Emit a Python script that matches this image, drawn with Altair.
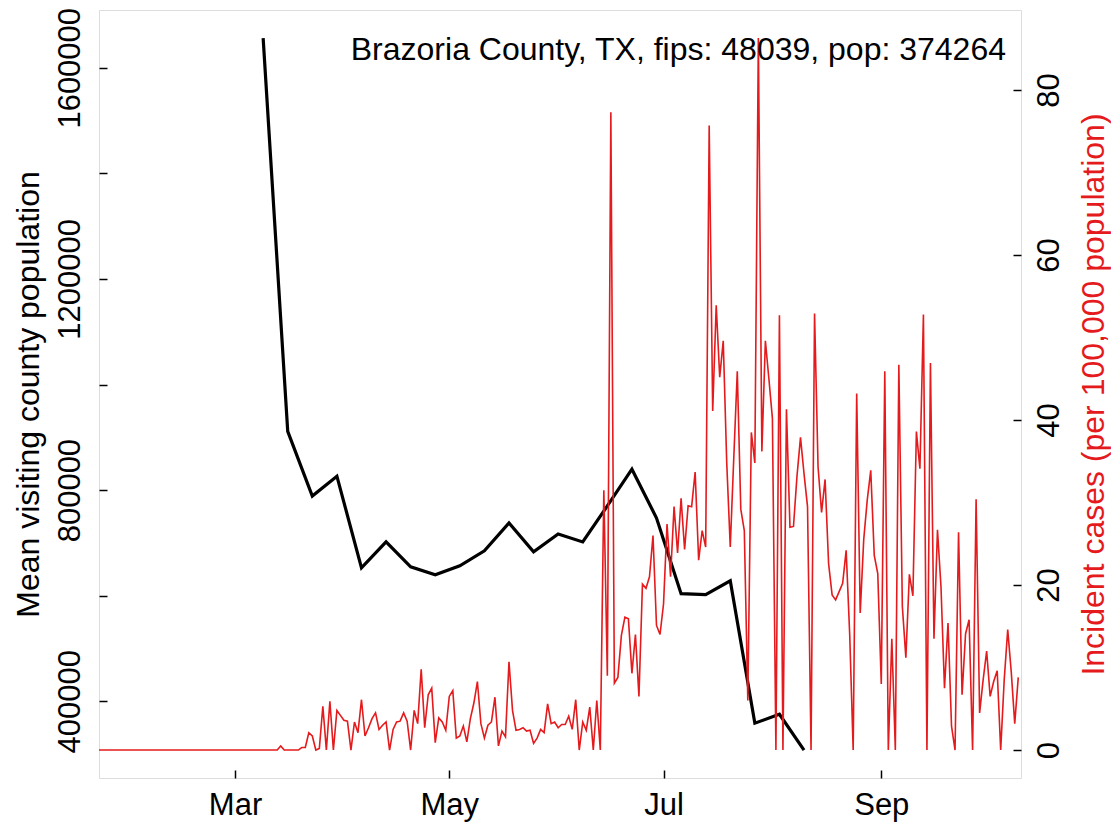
import altair as alt
import pandas as pd

# ---------------- data ----------------
red_start = "2020-01-22"
incident = (
    [0.0] * 52 + [0.5] + [0.0] * 5 +
    [0.3, 0.3, 2.1, 1.7, 0.0, 0.2, 5.3, 0.0, 5.9, 0.0,
     4.8, 4.2, 3.6, 3.5, 0.0, 3.4, 2.1, 6.1, 1.7, 2.7,
     3.8, 4.5, 2.5, 3.0, 3.4, 0.0, 2.5, 3.4, 3.5, 4.5,
     3.5, 0.0, 4.8, 3.2, 9.8, 2.7, 6.7, 7.5, 0.9, 3.9,
     3.4, 2.4,
     6.5, 7.2, 1.45, 1.7, 2.9, 1.0, 3.8, 5.7, 8.3, 3.2,
     1.45, 3.0, 3.4, 6.4, 0.5, 2.3, 1.6, 10.7, 4.8, 2.4,
     2.5, 2.7, 2.3, 2.4, 0.8, 1.45, 2.5, 2.1, 5.6, 3.2,
     3.4, 2.7, 3.1, 3.1, 4.1, 2.5, 6.1, 0.0, 3.4, 2.4,
     5.2, 0.0, 6.0, 0.0, 31.5, 9.0, 77.3, 8.1, 8.8, 13.9,
     16.1, 15.9, 9.3, 14.0, 6.5, 20.1, 19.6, 21.0, 26.0, 15.1,
     14.0, 17.7, 27.4, 21.0, 29.5, 23.9, 30.5, 24.3, 29.6, 29.5,
     33.7, 23.0, 26.6, 24.6, 75.7, 41.1, 53.9, 45.2, 49.6, 34.8,
     24.6, 35.4, 45.9, 29.2, 26.6, 6.0, 38.5, 34.8, 86.3, 36.2,
     49.6, 45.0, 40.2, 0.0, 52.7, 0.0, 41.3, 27.0, 27.1, 33.2,
     37.9, 33.5, 29.5, 0.0, 52.9, 34.3, 28.8, 32.8, 22.6, 18.8,
     18.2, 19.2, 20.2, 24.2, 14.1, 0.0, 43.2, 16.6, 25.5, 30.3,
     33.9, 23.6, 21.4, 8.0, 45.9, 0.0, 13.5, 0.0, 46.7, 17.4,
     11.2, 21.3, 18.7, 38.6, 34.1, 52.8, 0.0, 46.9, 13.5, 26.7,
     19.8, 7.5, 15.4, 2.9, 0.0, 26.4, 6.7, 14.1, 15.8, 0.0,
     30.4, 4.5, 8.5, 12.0, 6.5, 8.3, 9.6, 0.0, 8.5, 14.6,
     9.5, 3.2, 8.8]
)

black_start = "2020-03-09"
visitors = [1656000, 911300, 788700, 826400, 652800, 701900, 654700,
            639600, 656600, 684900, 737700, 683000, 717000, 701900,
            770000, 839600, 747200, 603800, 601900, 628300, 358500,
            375500, 307500]

x_ticks = ["2020-03-01", "2020-05-01", "2020-07-01", "2020-09-01"]
left_ticks = [400000, 600000, 800000, 1000000, 1200000, 1400000, 1600000]
right_ticks = [0, 20, 40, 60, 80]

title_text = "Brazoria County, TX, fips: 48039, pop: 374264"
left_title = "Mean visiting county population"
right_title = "Incident cases (per 100,000 population)"

red_dates = pd.date_range(red_start, periods=len(incident), freq="D").strftime("%Y-%m-%d")
black_dates = pd.date_range(black_start, periods=len(visitors), freq="7D").strftime("%Y-%m-%d")
red_df = pd.DataFrame({"date": list(red_dates), "cases": incident})
black_df = pd.DataFrame({"date": list(black_dates), "pop": visitors})

FONT = "Liberation Sans"
FS = 31
FT = 32
RED = "#E41A1C"


def dt(s, h=0, mi=0):
    y, m, d = (int(v) for v in s.split("-"))
    return alt.DateTime(year=y, month=m, date=d, hours=h, minutes=mi, utc=True)


x_scale = alt.Scale(type="utc", domain=[dt("2020-01-22", 6, 20), dt("2020-10-10", 18, 45)], nice=False)
x_enc = alt.X(
    "date:T",
    scale=x_scale,
    axis=alt.Axis(
        orient="bottom", values=[dt(s) for s in x_ticks],
        labelExpr="utcFormat(datum.value, '%b')",
        title=None, grid=False, domain=False, offset=-8, tickSize=8, tickWidth=1.5,
        tickColor="black", labelFontSize=FS, labelFont=FONT, labelColor="black",
        labelPadding=12, labelAngle=0, labelAlign="center", labelBaseline="top",
    ),
)

black = alt.Chart(black_df).mark_line(color="black", strokeWidth=3.2, clip=True).encode(
    x=x_enc,
    y=alt.Y(
        "pop:Q",
        scale=alt.Scale(domain=[254700, 1709400], nice=False, zero=False),
        axis=alt.Axis(
            orient="left", values=left_ticks, format="d",
            labelExpr="datum.value % 400000 == 0 ? datum.label : ''",
            title=left_title, titleFontSize=FT, titleFont=FONT, titleFontWeight="normal",
            titleColor="black", titlePadding=9,
            grid=False, domain=False, offset=-8, tickSize=8, tickWidth=1.5, tickColor="black",
            labelFontSize=FS, labelFont=FONT, labelColor="black", labelAngle=270,
            labelAlign="center", labelBaseline="bottom", labelPadding=13,
        ),
    ),
)

red = alt.Chart(red_df).mark_line(color=RED, strokeWidth=1.6, clip=True).encode(
    x=x_enc,
    y=alt.Y(
        "cases:Q",
        scale=alt.Scale(domain=[-3.39, 89.7], nice=False, zero=False),
        axis=alt.Axis(
            orient="right", values=right_ticks, format="d",
            title=right_title, titleFontSize=FT, titleFont=FONT, titleFontWeight="normal",
            titleColor=RED, titleAngle=270, titleBaseline="top", titlePadding=14,
            grid=False, domain=False, offset=-8, tickSize=8, tickWidth=1.5, tickColor="black",
            labelFontSize=FS, labelFont=FONT, labelColor="black", labelAngle=270,
            labelAlign="center", labelBaseline="top", labelPadding=13,
        ),
    ),
)

chart = (
    alt.layer(black, red)
    .resolve_scale(y="independent")
    .properties(
        width=922, height=768,
        padding={"left": 91, "top": 2, "right": 90, "bottom": 48},
        autosize=alt.AutoSizeParams(type="none"),
        title=alt.TitleParams(
            text=title_text, anchor="end", orient="top", frame="group", offset=-85,
            dx=-15, baseline="alphabetic", fontSize=FT, font=FONT, fontWeight="normal",
            color="black",
        ),
    )
    .configure_view(stroke="black", strokeWidth=1.5)
    .configure(background="white")
)

chart.save("out.html", embed_options={"renderer": "svg", "actions": False})
